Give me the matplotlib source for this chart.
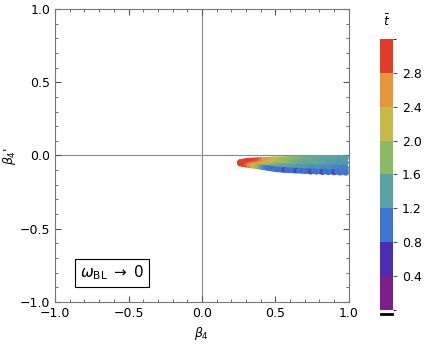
import numpy as np
import matplotlib
matplotlib.use("Agg")
import matplotlib.pyplot as plt
from matplotlib.colors import ListedColormap, BoundaryNorm, LinearSegmentedColormap, Normalize
from matplotlib.lines import Line2D

beta4 = [0.26, 0.28, 0.30, 0.32, 0.34, 0.36, 0.38, 0.40, 0.42, 0.44,
         0.46, 0.48, 0.50, 0.52, 0.54, 0.56, 0.58, 0.60, 0.62, 0.64,
         0.66, 0.68, 0.70, 0.72, 0.74, 0.76, 0.78, 0.80, 0.82, 0.84,
         0.86, 0.88, 0.90, 0.92, 0.94, 0.96, 0.98]
y_row1 = [-0.045, -0.041, -0.037, -0.035, -0.034, -0.033, -0.031, -0.030, -0.029, -0.028,
          -0.027, -0.026, -0.026, -0.025, -0.025, -0.024, -0.024, -0.023, -0.023, -0.022,
          -0.022, -0.021, -0.021, -0.020, -0.020, -0.020, -0.019, -0.019, -0.019, -0.018,
          -0.018, -0.018, -0.017, -0.017, -0.017, -0.017, -0.017]
y_row2 = [-0.048, -0.047, -0.046, -0.045, -0.046, -0.046, -0.045, -0.046, -0.046, -0.047,
          -0.047, -0.047, -0.048, -0.048, -0.049, -0.049, -0.049, -0.049, -0.049, -0.049,
          -0.049, -0.049, -0.049, -0.048, -0.050, -0.049, -0.050, -0.049, -0.050, -0.048,
          -0.050, -0.049, -0.050, -0.048, -0.050, -0.049, -0.050]
y_row3 = [-0.052, -0.053, -0.054, -0.056, -0.057, -0.059, -0.060, -0.062, -0.064, -0.065,
          -0.067, -0.068, -0.070, -0.072, -0.073, -0.074, -0.075, -0.075, -0.076, -0.076,
          -0.077, -0.077, -0.079, -0.077, -0.080, -0.078, -0.080, -0.079, -0.082, -0.079,
          -0.082, -0.080, -0.083, -0.080, -0.084, -0.081, -0.084]
y_row4 = [-0.055, -0.059, -0.063, -0.066, -0.069, -0.072, -0.075, -0.078, -0.081, -0.084,
          -0.087, -0.090, -0.093, -0.095, -0.097, -0.099, -0.100, -0.101, -0.102, -0.103,
          -0.104, -0.105, -0.107, -0.105, -0.110, -0.106, -0.111, -0.108, -0.113, -0.109,
          -0.114, -0.110, -0.115, -0.111, -0.117, -0.112, -0.118]
t_row1 = [3.2, 3.2, 3.15, 3.1, 3.05, 3.0, 2.9, 2.75, 2.6, 2.5,
          2.4, 2.3, 2.2, 2.1, 2.0, 1.95, 1.9, 1.85, 1.75, 1.7,
          1.65, 1.6, 1.6, 1.55, 1.55, 1.5, 1.5, 1.5, 1.45, 1.45,
          1.45, 1.4, 1.4, 1.4, 1.35, 1.35, 1.35]
t_row2 = [3.2, 3.15, 3.1, 3.05, 3.0, 2.95, 2.85, 2.7, 2.55, 2.45,
          2.3, 2.2, 2.1, 2.0, 1.9, 1.85, 1.8, 1.75, 1.65, 1.6,
          1.55, 1.55, 1.5, 1.5, 1.45, 1.45, 1.45, 1.4, 1.4, 1.4,
          1.35, 1.35, 1.35, 1.3, 1.3, 1.3, 1.3]
t_row3 = [3.15, 3.1, 3.05, 2.95, 2.85, 2.7, 2.55, 2.4, 2.2, 2.05,
          1.9, 1.75, 1.65, 1.55, 1.5, 1.45, 1.4, 1.4, 1.35, 1.35,
          1.3, 1.3, 1.3, 1.3, 1.25, 1.25, 1.25, 1.25, 1.2, 1.2,
          1.2, 1.2, 1.15, 1.15, 1.15, 1.1, 1.1]
t_row4 = [3.1, 3.0, 2.9, 2.7, 2.45, 2.15, 1.85, 1.5, 1.2, 1.05,
          1.0, 0.95, 1.0, 0.95, 1.0, 0.75, 1.0, 0.95, 1.0, 0.75,
          1.0, 0.95, 1.0, 0.95, 0.75, 1.0, 0.95, 1.0, 0.75, 1.0,
          0.95, 1.0, 0.75, 1.0, 1.0, 1.05, 1.0]

levels = [0.0, 0.4, 0.8, 1.2, 1.6, 2.0, 2.4, 2.8, 3.2]
cbar_ticks = [0.4, 0.8, 1.2, 1.6, 2.0, 2.4, 2.8]
level_colors = ["#7b1f8c", "#4b2db5", "#3f74d4", "#5ba3a2",
                "#8cb963", "#c7b84a", "#e8963c", "#e03c28"]

# discrete map for the colorbar, smooth version for the points
cmap = ListedColormap(level_colors)
norm = BoundaryNorm(levels, cmap.N)
smooth_cmap = LinearSegmentedColormap.from_list("smooth", level_colors)
smooth_norm = Normalize(vmin=0.2, vmax=3.0)

fig = plt.figure(figsize=(4.27, 3.44), dpi=100)
ax = fig.add_axes([0.129, 0.122, 0.688, 0.852])

ax.axhline(0, color="#888888", lw=0.8, zorder=1)
ax.axvline(0, color="#888888", lw=0.8, zorder=1)

for ys, ts in [(y_row1, t_row1), (y_row2, t_row2), (y_row3, t_row3), (y_row4, t_row4)]:
    ax.scatter(beta4, ys, c=ts, cmap=smooth_cmap, norm=smooth_norm, s=18, marker="o",
               linewidths=0, zorder=2)

ax.set_xlim(-1, 1)
ax.set_ylim(-1, 1)
ax.set_xticks([-1.0, -0.5, 0.0, 0.5, 1.0])
ax.set_yticks([-1.0, -0.5, 0.0, 0.5, 1.0])
ax.minorticks_on()
ax.tick_params(which="both", direction="in", top=True, right=True, colors="#555555",
               labelcolor="black", labelsize=9)
ax.tick_params(which="major", length=4)
ax.tick_params(which="minor", length=2)
for sp in ax.spines.values():
    sp.set_color("#777777")
ax.set_xlabel(r"$\beta_4$", fontsize=9)
ax.set_ylabel(r"$\beta_4$'", fontsize=9)
ax.yaxis.set_label_coords(-0.125, 0.5)

ax.text(-0.83, -0.8, r"$\omega_{\rm BL}\;\rightarrow\;0$", fontsize=11, va="center",
        bbox=dict(boxstyle="square,pad=0.3", fc="white", ec="black", lw=0.8))

cax = fig.add_axes([0.890, 0.099, 0.030, 0.788])
sm = plt.cm.ScalarMappable(cmap=cmap, norm=norm)
cb = fig.colorbar(sm, cax=cax, ticks=cbar_ticks)
cb.outline.set_visible(False)
cb.ax.tick_params(labelsize=9, length=3, color="#555555")
cb.ax.set_yticklabels([f"{v:.1f}" for v in cbar_ticks])
fig.text(0.905, 0.925, r"$\bar{t}$", fontsize=9, ha="center")
fig.add_artist(Line2D([0.892, 0.919], [0.087, 0.087], color="black", lw=2))

plt.savefig("out.png", dpi=100)
plt.close()
